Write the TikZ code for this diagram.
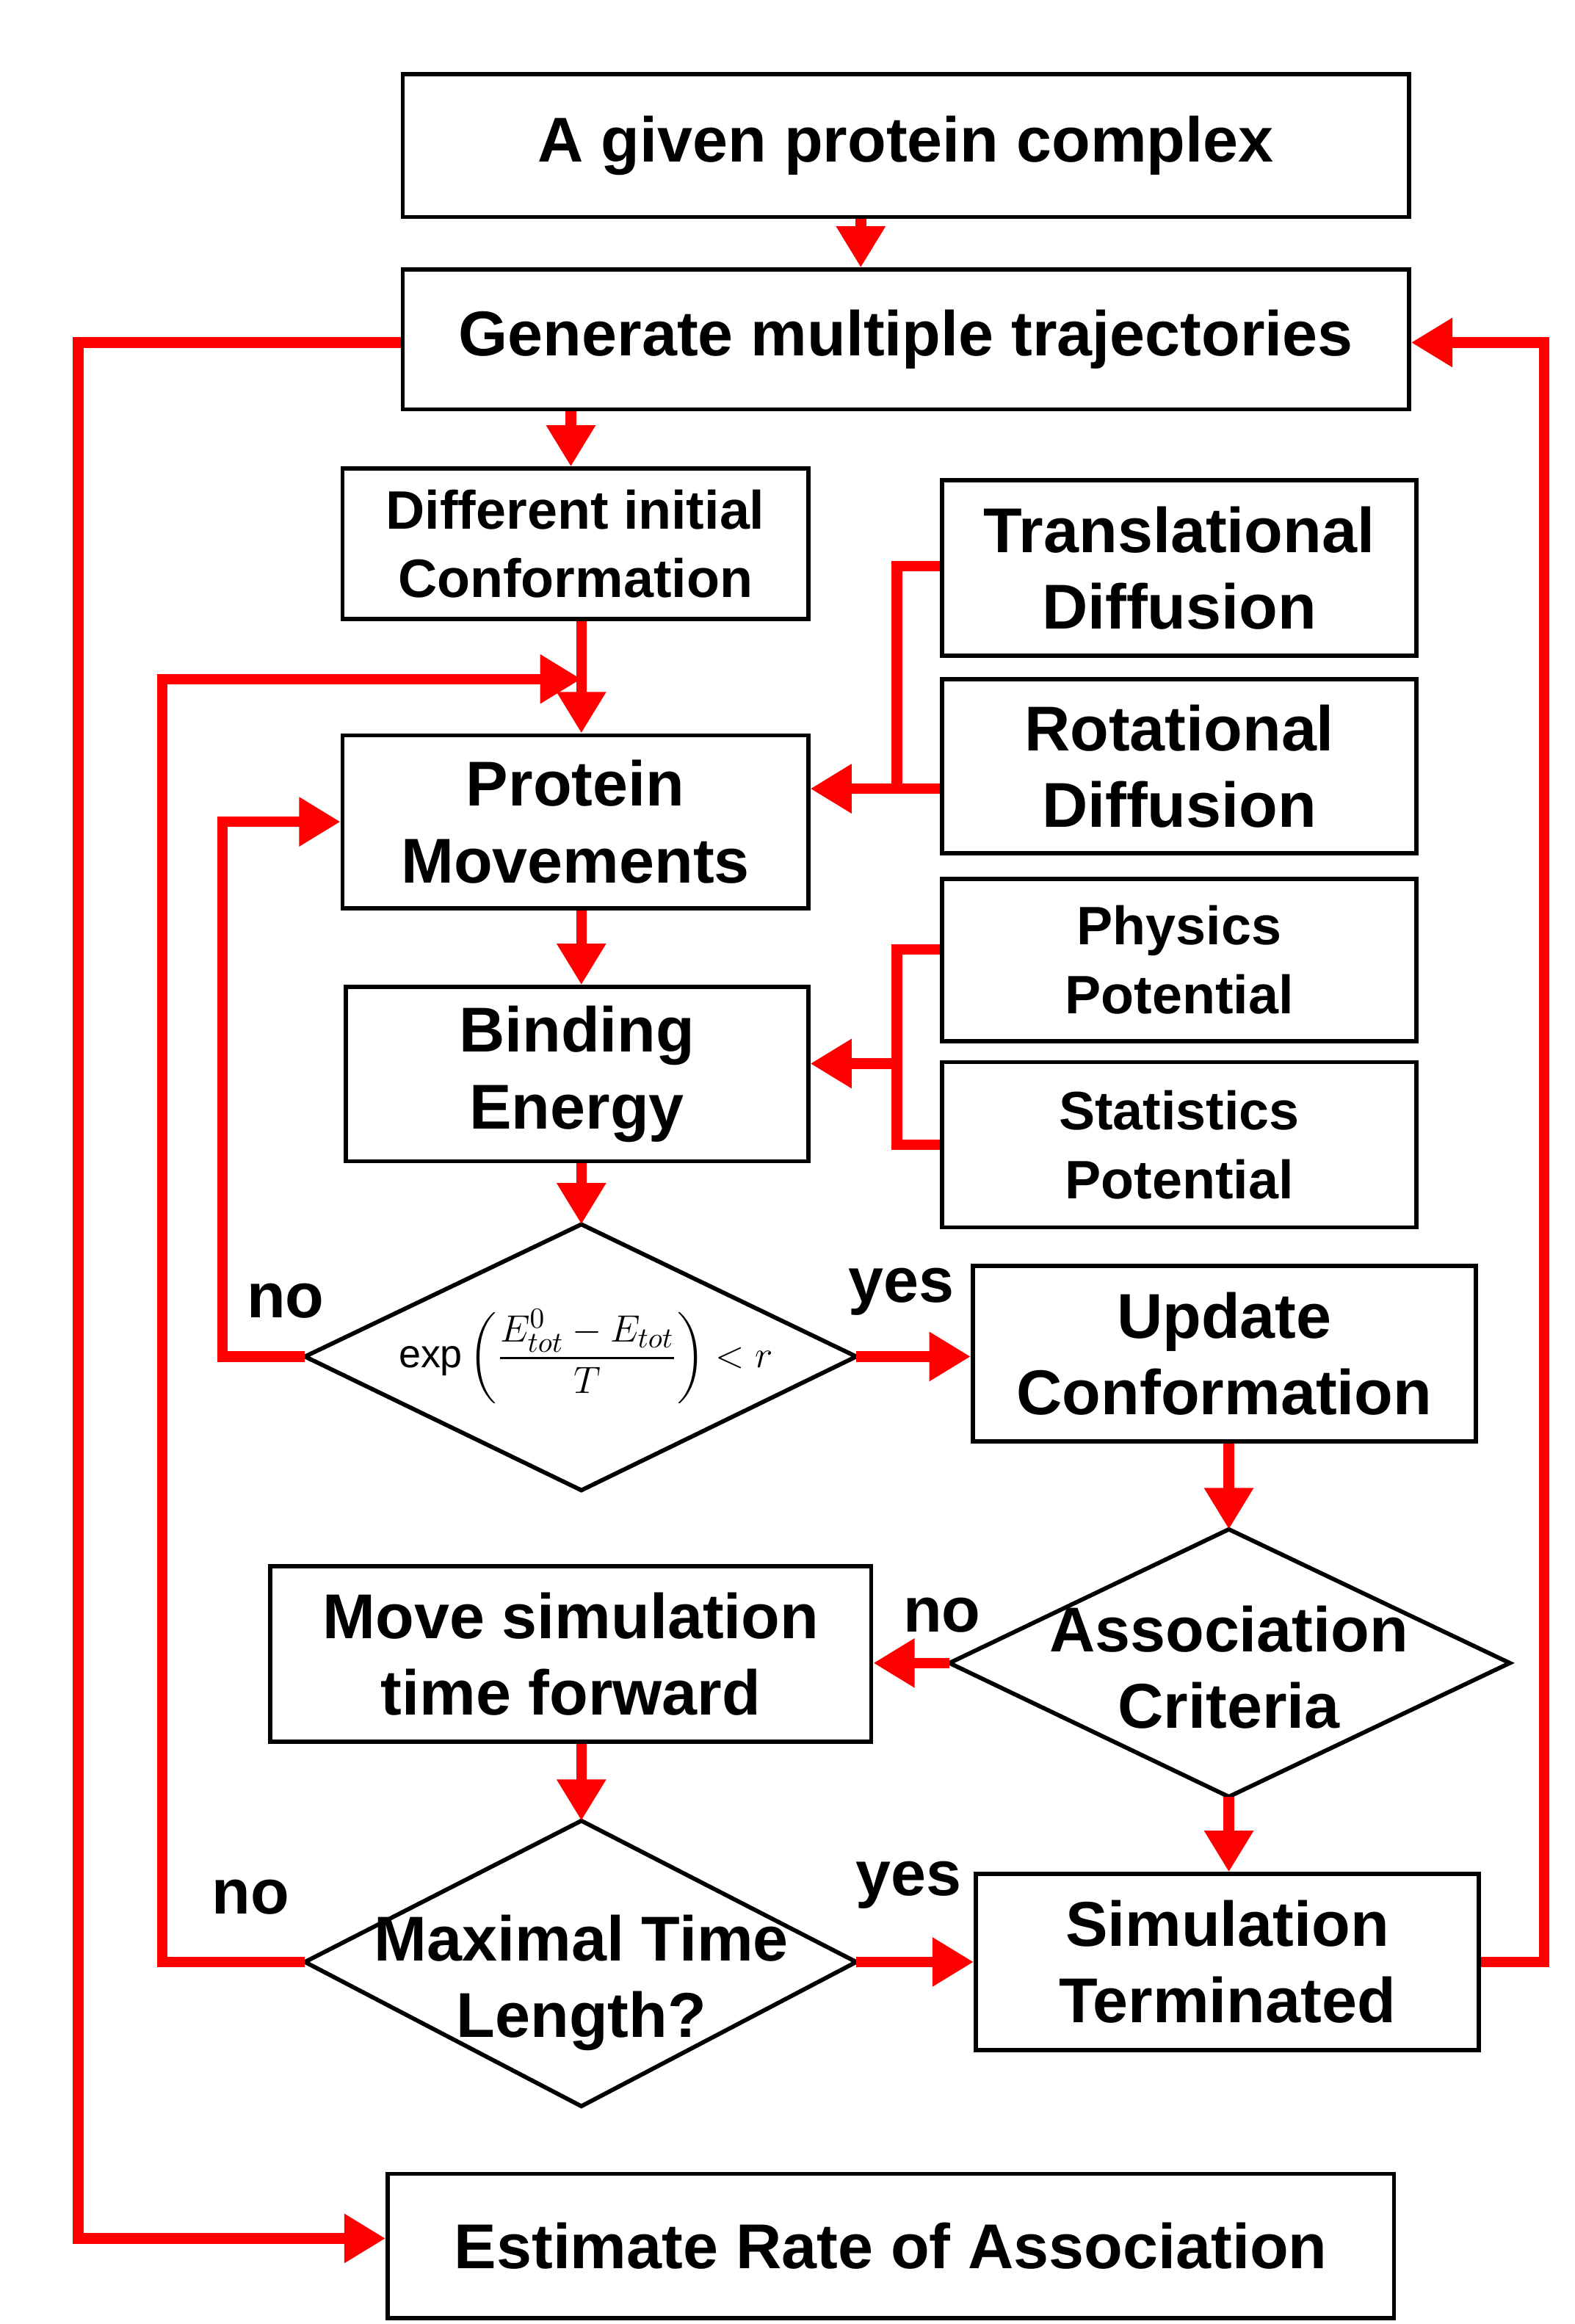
\documentclass[tikz,border=0pt]{standalone}
\usepackage{fontspec}
\setmainfont{Liberation Sans}
\usepackage{amsmath}
\usetikzlibrary{shapes.geometric,arrows.meta}
\definecolor{flow}{RGB}{255,0,0}
\begin{document}
\begin{tikzpicture}[x=0.02cm,y=-0.02cm,
  box/.style={rectangle, draw, line width=1.6pt, align=center, inner sep=0pt,
    font=\fontsize{24}{29}\selectfont\bfseries},
  small/.style={font=\fontsize{20.5}{26}\selectfont\bfseries},
  dia/.style={draw, line width=1.6pt, line join=miter},
  dtext/.style={align=center, inner sep=0pt, font=\fontsize{24}{29}\selectfont\bfseries},
  flow/.style={draw=flow, line width=4pt, -{Triangle[length=0.55cm,width=0.62cm]}},
  line/.style={draw=flow, line width=4pt},
  lbl/.style={font=\fontsize{24}{29}\selectfont\bfseries}
]
\useasboundingbox (0,0) rectangle (1048,1547);
\node[box, minimum width=13.4cm, minimum height=1.9cm] (given) at (603,97) {A given protein complex};
\node[box, minimum width=13.4cm, minimum height=1.86cm] (gen) at (603,226) {Generate multiple trajectories};
\node[box, small, minimum width=6.2cm, minimum height=2.0cm] (init) at (383,362) {Different initial\\Conformation};
\node[box, minimum width=6.32cm, minimum height=2.34cm] (trans) at (785,378) {Translational\\Diffusion};
\node[box, minimum width=6.32cm, minimum height=2.32cm] (rot) at (785,510) {Rotational\\Diffusion};
\node[box, minimum width=6.2cm, minimum height=2.3cm] (move) at (383,547) {Protein\\Movements};
\node[box, minimum width=6.16cm, minimum height=2.32cm] (bind) at (384,715) {Binding\\Energy};
\node[box, small, minimum width=6.32cm, minimum height=2.16cm] (phys) at (785,639) {Physics\\Potential};
\node[box, small, minimum width=6.32cm, minimum height=2.2cm] (stat) at (785,762) {Statistics\\Potential};
\node[box, minimum width=6.7cm, minimum height=2.34cm] (upd) at (815,901) {Update\\Conformation};
\node[box, minimum width=8.0cm, minimum height=2.34cm] (fwd) at (380,1101) {Move simulation\\time forward};
\node[box, minimum width=6.7cm, minimum height=2.34cm] (term) at (817,1306) {Simulation\\Terminated};
\node[box, minimum width=13.4cm, minimum height=1.92cm] (est) at (593,1495) {Estimate Rate of Association};

% decision diamonds
\coordinate (c1n) at (387,815); \coordinate (c1s) at (387,992);
\coordinate (c1w) at (203,903); \coordinate (c1e) at (570,903);
\path[dia] (c1n) -- (c1e) -- (c1s) -- (c1w) -- cycle;
\node[dtext] (crit) at (390,903)
  {\fontsize{15}{17}\selectfont\mdseries$\exp\left(\dfrac{E^{0}_{tot}-E_{tot}}{T}\right)<r$};
\coordinate (c2n) at (818,1018); \coordinate (c2s) at (818,1196);
\coordinate (c2w) at (632,1107); \coordinate (c2e) at (1005,1107);
\path[dia] (c2n) -- (c2e) -- (c2s) -- (c2w) -- cycle;
\node[dtext] (assoc) at (818,1110) {Association\\Criteria};
\coordinate (c3n) at (387,1212); \coordinate (c3s) at (387,1402);
\coordinate (c3w) at (203,1306); \coordinate (c3e) at (570,1306);
\path[dia] (c3n) -- (c3e) -- (c3s) -- (c3w) -- cycle;
\node[dtext] (maxt) at (387,1320) {Maximal Time\\Length?};

\coordinate (j1) at (597,525);
\coordinate (j2) at (597,708);
\coordinate (loop) at (387,452);

\path[flow] (given.south -| 573,0) -- (gen.north -| 573,0);
\path[flow] (gen.south -| 380,0) -- (init.north -| 380,0);
\path[flow] (init.south -| 387,0) -- (move.north -| 387,0);
\path[line] (trans.west |- 0,377) -- (597,377) -- (597,525) -- (rot.west |- j1);
\path[flow] (j1) -- (move.east |- j1);
\path[flow] (move.south -| 387,0) -- (bind.north -| 387,0);
\path[line] (phys.west |- 0,632) -- (597,632) -- (597,762) -- (stat.west |- 0,762);
\path[flow] (j2) -- (bind.east |- j2);
\path[flow] (bind.south -| 387,0) -- (c1n);
\path[flow] (c1w) -- (148,903) -- (148,547) -- (move.west |- 0,547);
\path[flow] (c1e) -- (upd.west |- c1e);
\path[flow] (upd.south -| c2n) -- (c2n);
\path[flow] (c2w) -- (fwd.east |- c2w);
\path[flow] (c2s) -- (term.north -| c2s);
\path[flow] (fwd.south -| c3n) -- (c3n);
\path[flow] (c3e) -- (term.west |- c3e);
\path[flow] (c3w) -- (108,1306) -- (108,452) -- (loop);
\path[flow] (term.east) -- (1028,1306) -- (1028,228) -- (gen.east |- 0,228);
\path[flow] (gen.west |- 0,228) -- (52,228) -- (52,1490) -- (est.west |- 0,1490);

\node[lbl] (no1) at (190,866) {no};
\node[lbl] (yes1) at (600,860) {yes};
\node[lbl] (no2) at (627,1075) {no};
\node[lbl] (no3) at (167,1263) {no};
\node[lbl] (yes3) at (605,1255) {yes};
\end{tikzpicture}
\end{document}
